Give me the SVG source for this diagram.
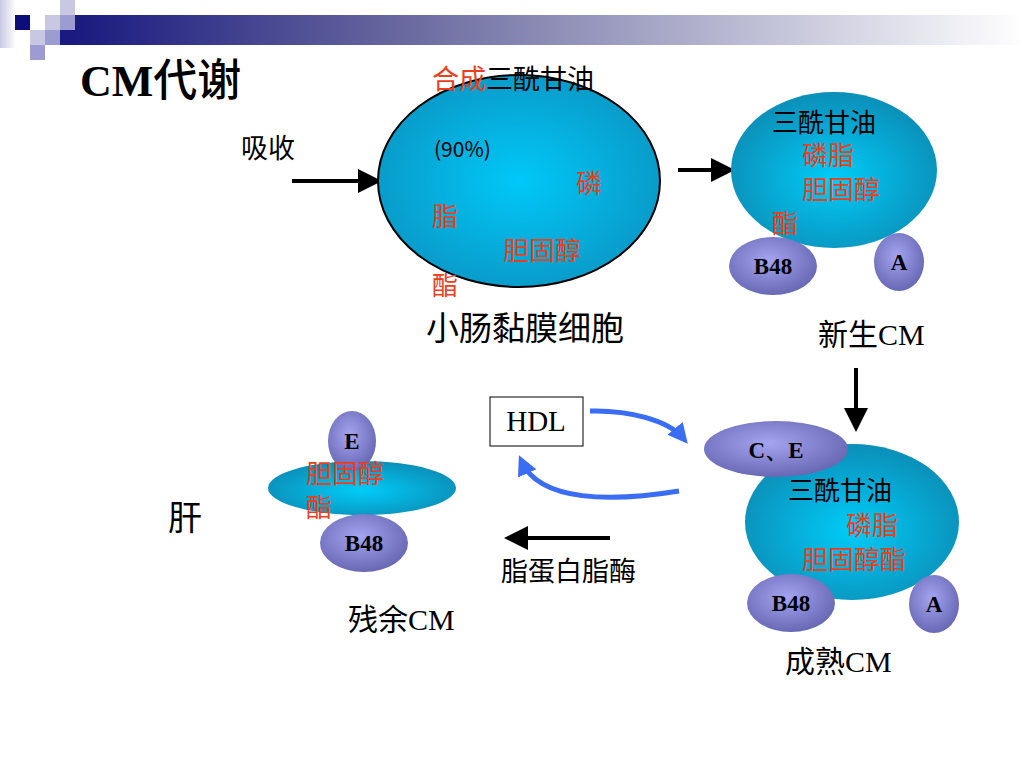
<svg xmlns="http://www.w3.org/2000/svg" width="1024" height="768" viewBox="0 0 1024 768">
<defs>
<linearGradient id="bar" x1="0" y1="0" x2="1" y2="0">
<stop offset="0" stop-color="#1a1a80"/>
<stop offset="0.35" stop-color="#6a6aa0"/>
<stop offset="1" stop-color="#ffffff"/>
</linearGradient>
<linearGradient id="strip" x1="0" y1="0" x2="1" y2="0">
<stop offset="0" stop-color="#c8c8e4"/>
<stop offset="1" stop-color="#ffffff"/>
</linearGradient>
<radialGradient id="cyan" cx="0.5" cy="0.55" r="0.55">
<stop offset="0" stop-color="#00ccf8"/>
<stop offset="1" stop-color="#0b8fb8"/>
</radialGradient>
<radialGradient id="cyan1" cx="0.5" cy="0.5" r="0.55">
<stop offset="0" stop-color="#00c8f8"/>
<stop offset="1" stop-color="#0a98c6"/>
</radialGradient>
<radialGradient id="purple" cx="0.45" cy="0.4" r="0.6">
<stop offset="0" stop-color="#a4a4f0"/>
<stop offset="1" stop-color="#6868b4"/>
</radialGradient>
<marker id="ah" markerWidth="6" markerHeight="6" refX="5" refY="3" orient="auto" markerUnits="strokeWidth">
<path d="M0,0 L6,3 L0,6 z" fill="#000"/>
</marker>
<marker id="bh" markerWidth="4" markerHeight="4" refX="2.5" refY="2" orient="auto" markerUnits="strokeWidth">
<path d="M0,0 L4,2 L0,4 z" fill="#3a6cf4"/>
</marker>
</defs>
<style>
.cjk{font-family:"Noto Sans CJK SC",sans-serif;}
.lbl{font-family:"Liberation Serif","Noto Sans CJK SC",serif;}
.red{fill:#e8401c;}
.blk{fill:#000;}
.t26{font-size:26px;}
.apo{font-family:"Liberation Serif",serif;font-weight:bold;font-size:23px;fill:#000;text-anchor:middle;}
.cyanE{fill:url(#cyan);}
.purpE{fill:url(#purple);}
.conn{stroke:#000;stroke-width:4;fill:none;marker-end:url(#ah);}
.blue{stroke:#3a6cf4;stroke-width:5;fill:none;marker-end:url(#bh);}
</style>
<rect width="1024" height="768" fill="#fff"/>
<g id="decor">
<rect x="0" y="0" width="16" height="48" fill="url(#strip)"/>
<rect x="75" y="15" width="949" height="30" fill="url(#bar)"/>
<rect x="60" y="30" width="16" height="15" fill="#1a1a80"/>
<rect x="15" y="15" width="15" height="15" fill="#0d0d7a"/>
<rect x="45" y="15" width="15" height="15" fill="#c8c8e2"/>
<rect x="60" y="15" width="15" height="15" fill="#9c9cd0"/>
<rect x="60" y="0" width="15" height="15" fill="#c8c8e2"/>
<rect x="30" y="30" width="15" height="15" fill="#c8c8e2"/>
<rect x="45" y="30" width="15" height="15" fill="#9c9cd0"/>
<rect x="30" y="45" width="15" height="15" fill="#9c9cd0"/>
</g>
<text id="title" x="80" y="96" font-size="44"><tspan font-family="Liberation Serif,serif" font-weight="bold">CM</tspan><tspan font-family="'Noto Sans CJK SC',sans-serif" font-weight="500">代谢</tspan></text>

<g id="connectors">
<line class="conn" x1="292" y1="181" x2="378" y2="181"/>
<line class="conn" x1="678" y1="170" x2="731" y2="170"/>
<line class="conn" x1="856" y1="368" x2="856" y2="428"/>
<line class="conn" x1="610" y1="538" x2="508" y2="538"/>
<path class="blue" d="M590,411 C628,410 668,420 683,438"/>
<path class="blue" d="M679,491 C612,502 540,502 522,462"/>
</g>

<g id="absorb">
<text class="cjk blk" x="241" y="158" font-size="27">吸收</text>
</g>

<g id="cell">
<ellipse cx="519" cy="181" rx="141" ry="106" fill="url(#cyan1)" stroke="#000" stroke-width="2"/>
<text class="cjk" x="432" y="89" font-size="27"><tspan class="red">合成</tspan><tspan class="blk">三酰甘油</tspan></text>
<text class="cjk blk" x="434" y="157" font-size="21">(90%)</text>
<text class="cjk red t26" x="576" y="193">磷</text>
<text class="cjk red t26" x="432" y="226">脂</text>
<text class="cjk red t26" x="503" y="260">胆固醇</text>
<text class="cjk red t26" x="432" y="295">酯</text>
<text class="cjk blk" x="426" y="340" font-size="33">小肠黏膜细胞</text>
</g>

<g id="newCM">
<ellipse cx="834" cy="170" rx="103" ry="78" class="cyanE"/>
<text class="cjk blk t26" x="772" y="132">三酰甘油</text>
<text class="cjk red t26" x="802" y="165">磷脂</text>
<text class="cjk red t26" x="802" y="199">胆固醇</text>
<text class="cjk red t26" x="772" y="233">酯</text>
<ellipse cx="773" cy="266" rx="44" ry="29" class="purpE"/>
<text class="apo" x="773" y="274">B48</text>
<ellipse cx="899" cy="262" rx="25" ry="29" class="purpE"/>
<text class="apo" x="899" y="270">A</text>
<text class="lbl blk" x="818" y="345" font-size="30">新生CM</text>
</g>

<g id="HDL">
<rect x="490" y="397" width="93" height="49" fill="#fff" stroke="#000" stroke-width="1"/>
<text x="536" y="431" font-family="Liberation Serif,serif" font-size="29" text-anchor="middle">HDL</text>
</g>

<g id="matureCM">
<ellipse cx="852" cy="522" rx="107" ry="78" class="cyanE"/>
<ellipse cx="776" cy="449" rx="72" ry="28" class="purpE"/>
<text class="apo" x="776" y="458">C、E</text>
<text class="cjk blk t26" x="788" y="500">三酰甘油</text>
<text class="cjk red t26" x="846" y="535">磷脂</text>
<text class="cjk red t26" x="802" y="569">胆固醇酯</text>
<ellipse cx="791" cy="603" rx="44" ry="29" class="purpE"/>
<text class="apo" x="791" y="611">B48</text>
<ellipse cx="934" cy="604" rx="25" ry="29" class="purpE"/>
<text class="apo" x="934" y="612">A</text>
<text class="lbl blk" x="785" y="672" font-size="30">成熟CM</text>
</g>

<g id="remnantCM">
<ellipse cx="362" cy="488" rx="94" ry="27" class="cyanE"/>
<ellipse cx="352" cy="441" rx="24" ry="30" class="purpE"/>
<text class="apo" x="352" y="449">E</text>
<ellipse cx="364" cy="543" rx="44" ry="29" class="purpE"/>
<text class="apo" x="364" y="551">B48</text>
<text class="cjk red t26" x="306" y="483">胆固醇</text>
<text class="cjk red t26" x="306" y="517">酯</text>
<text class="lbl blk" x="348" y="630" font-size="30">残余CM</text>
</g>

<g id="liver">
<text class="cjk blk" x="168" y="530" font-size="34">肝</text>
</g>

<g id="lipase">
<text class="cjk blk" x="501" y="581" font-size="27">脂蛋白脂酶</text>
</g>
</svg>
